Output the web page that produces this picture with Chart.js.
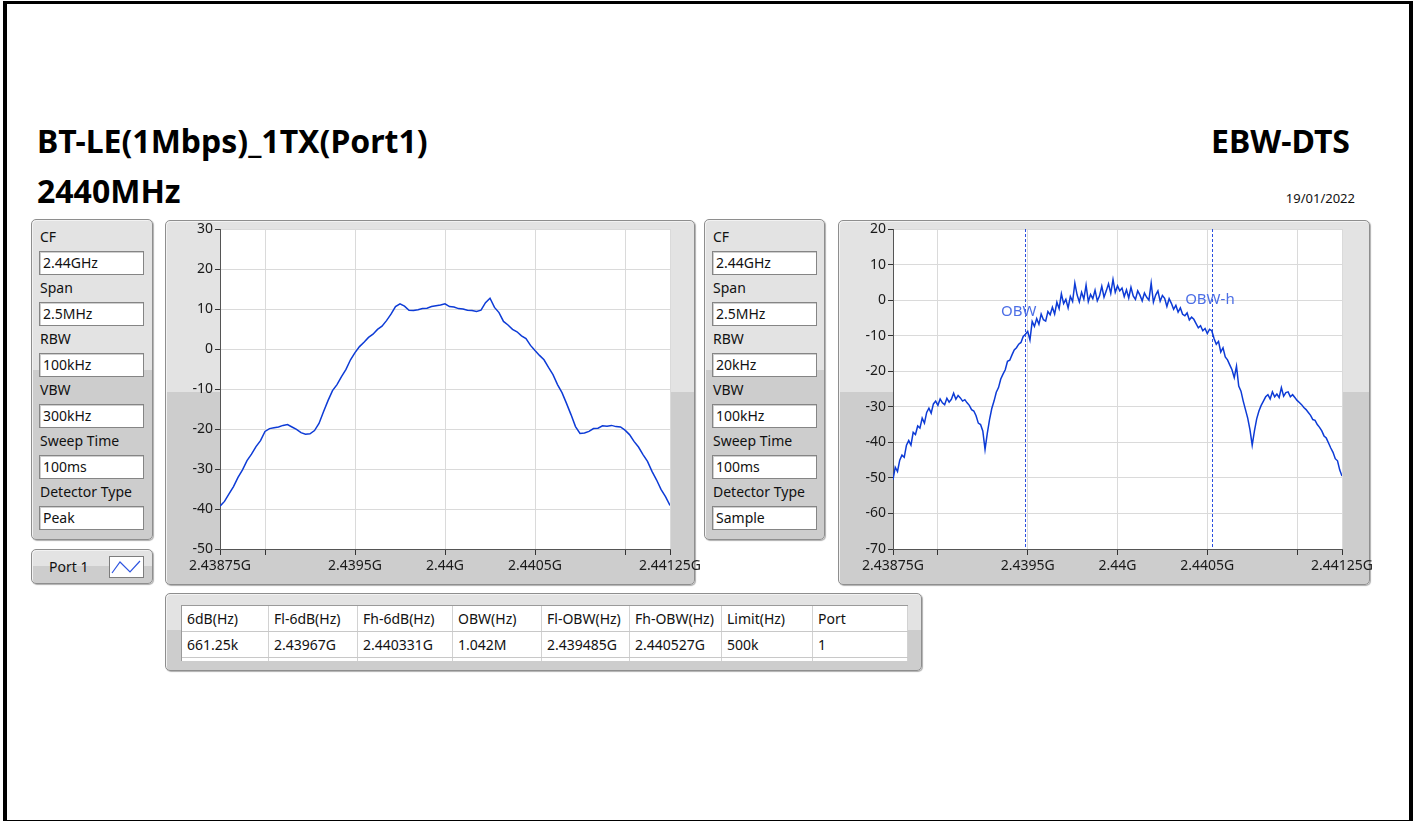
<!DOCTYPE html>
<html>
<head>
<meta charset="utf-8">
<title>EBW-DTS</title>
<script src="https://cdn.jsdelivr.net/npm/chart.js@4.4.1/dist/chart.umd.min.js"></script>
<style>
  html, body { margin: 0; padding: 0; background: #fff; }
  body { width: 1415px; height: 822px; position: relative; overflow: hidden; font-family: "Noto Sans", sans-serif; color: #111; }
  .frame { position: absolute; left: 3px; top: 1px; width: 1402px; height: 816px; border-style: solid; border-color: #000; border-width: 3px 4px 1px 4px; }
  .heading { position: absolute; font-weight: bold; font-size: 32px; line-height: 32px; white-space: nowrap; color: #000; }
  .date { position: absolute; right: 60px; top: 191px; font-size: 13px; line-height: 15px; }
  .panel { position: absolute; box-sizing: border-box; border: 1px solid #8e8e8e; border-radius: 5px;
           background: linear-gradient(to bottom, #e3e3e3 0%, #e3e3e3 47%, #cdcdcd 47%, #cdcdcd 100%);
           box-shadow: 1px 1px 1px #b0b0b0, inset 1px 1px 0 #f2f2f2; }
  .setting-label { position: absolute; left: 8px; height: 22px; line-height: 22px; font-size: 14px; white-space: nowrap; }
  .setting-box { position: absolute; left: 7px; width: 105px; height: 24px; box-sizing: border-box; background: #fff;
                 border: 1px solid #858585; box-shadow: inset 1px 1px 0 #cfcfcf; padding-left: 3px; line-height: 22px; font-size: 14px; }
  .port-text { position: absolute; left: 17px; top: 0; line-height: 33px; font-size: 14px; }
  .port-icon { position: absolute; left: 77px; top: 6px; }
  canvas { position: absolute; }
  .table-wrap { position: absolute; left: 15px; top: 11px; width: 727px; height: 56px; overflow: hidden; background: #fff;
                border-top: 1px solid #9a9a9a; border-left: 1px solid #9a9a9a; box-sizing: border-box; }
  table { border-collapse: collapse; font-size: 14px; table-layout: fixed; }
  td { height: 25px; padding: 0 0 0 5px; border-right: 1px solid #d2d2d2; border-bottom: 1px solid #c8c8c8; white-space: nowrap; color: #111; }
</style>
</head>
<body>
<div class="frame"></div>
<div class="heading" style="left:37px; top:125px;">BT-LE(1Mbps)_1TX(Port1)</div>
<div class="heading" style="left:37px; top:175px;">2440MHz</div>
<div class="heading" style="right:65px; top:125px;">EBW-DTS</div>
<div class="date">19/01/2022</div>

<div class="panel" id="settingsA" style="left:31px; top:219px; width:122px; height:321px;"></div>
<div class="panel" id="settingsB" style="left:704px; top:219px; width:121px; height:321px;"></div>

<div class="panel" style="left:31px; top:549px; width:122px; height:35px;">
  <div class="port-text">Port 1</div>
  <svg class="port-icon" width="35" height="22">
    <rect x="0.5" y="0.5" width="34" height="21" fill="#fff" stroke="#7d7d7d"/>
    <polyline points="3,17 11,6 21,16 31,5" fill="none" stroke="#2f55e0" stroke-width="1.2"/>
  </svg>
</div>

<div class="panel" style="left:165px; top:220px; width:530px; height:365px;"></div>
<div class="panel" style="left:838px; top:220px; width:532px; height:365px;"></div>
<canvas id="peakChart" width="540" height="365" style="left:165px; top:220px;"></canvas>
<canvas id="sampleChart" width="542" height="365" style="left:838px; top:220px;"></canvas>

<div class="panel" style="left:165px; top:593px; width:757px; height:78px;">
  <div class="table-wrap"><table id="resultTable"></table></div>
</div>

<script>
// sweep settings shown beside each trace
const settingNames = ['CF', 'Span', 'RBW', 'VBW', 'Sweep Time', 'Detector Type'];
const peakSettings = ['2.44GHz', '2.5MHz', '100kHz', '300kHz', '100ms', 'Peak'];
const sampleSettings = ['2.44GHz', '2.5MHz', '20kHz', '100kHz', '100ms', 'Sample'];

// result table
const resultHeaders = ['6dB(Hz)', 'Fl-6dB(Hz)', 'Fh-6dB(Hz)', 'OBW(Hz)', 'Fl-OBW(Hz)', 'Fh-OBW(Hz)', 'Limit(Hz)', 'Port'];
const resultValues = ['661.25k', '2.43967G', '2.440331G', '1.042M', '2.439485G', '2.440527G', '500k', '1'];
const resultColWidths = [87, 89, 95, 89, 88, 92, 91, 95];

// frequency axis (MHz)
const freqStart = 2438.75;
const freqStop = 2441.25;
const freqTicks = [2438.75, 2439, 2439.5, 2440, 2440.5, 2441, 2441.25];
const freqLabelled = [2438.75, 2439.5, 2440, 2440.5, 2441.25];

// OBW cursors (MHz)
const obwLow = 2439.485;
const obwHigh = 2440.527;

// peak detector trace, RBW 100kHz, 25 kHz per point (dBm)
const peakStep = 0.025;
const peakLevels = [
  -39.3, -38.1, -36.2, -34.4, -32.1, -30.2, -27.9, -26.3, -24.4, -22.9,
  -20.6, -19.9, -19.7, -19.5, -19.1, -18.9, -19.5, -20.1, -20.9, -21.3,
  -21.2, -20.4, -18.6, -15.7, -12.9, -10.4, -8.9, -6.9, -5.1, -2.7,
  -0.9, 0.6, 1.7, 2.9, 3.7, 4.9, 5.7, 7.1, 8.7, 10.6,
  11.3, 10.7, 9.7, 9.6, 9.8, 10.1, 10.2, 10.6, 10.8, 11.0,
  11.3, 10.6, 10.5, 10.1, 10.0, 9.7, 9.6, 9.4, 9.7, 11.6,
  12.7, 10.4, 9.1, 6.9, 6.0, 4.9, 4.3, 3.3, 2.6, 0.9,
  -0.4, -1.6, -2.7, -4.6, -6.4, -8.9, -10.9, -13.6, -16.4, -19.4,
  -21.1, -21.0, -20.6, -19.9, -19.8, -19.2, -19.3, -19.1, -19.4, -19.5,
  -20.3, -21.4, -23.1, -24.5, -26.4, -28.1, -30.6, -32.7, -35.1, -36.9,
  -39.1
];

// sample detector trace, RBW 20kHz, 12.5 kHz per point (dBm)
const sampleStep = 0.0125;
const sampleLevels = [
  -50.5, -47.0, -48.2, -45.0, -43.6, -44.2, -40.8, -39.5, -40.8, -37.2,
  -37.8, -35.4, -36.0, -33.2, -34.6, -31.6, -30.4, -31.8, -29.2, -28.4,
  -29.6, -27.8, -28.9, -29.4, -27.6, -28.7, -27.9, -26.2, -27.9, -26.8,
  -27.5, -28.4, -28.0, -28.9, -29.6, -30.8, -31.2, -32.5, -34.6, -35.0,
  -36.8, -42.0, -37.5, -33.6, -30.5, -28.4, -25.9, -24.6, -22.2, -20.8,
  -19.6, -17.2, -16.9, -15.4, -14.0, -13.4, -12.4, -11.9, -10.2, -9.6,
  -8.8, -11.2, -6.0, -7.4, -5.2, -6.8, -3.9, -5.5, -5.9, -3.2,
  -4.1, -2.0, -3.9, -0.6, -2.4, 1.8, -1.0, 0.2, -2.2, 1.0,
  -0.4, 4.8, 1.5, -0.5, 2.2, 0.3, 4.2, -0.4, 1.6, 0.4,
  2.8, -0.2, 1.2, 3.9, 0.8, 2.6, 4.6, 1.9, 5.8, 2.2,
  4.0, 2.6, 3.4, 1.0, 2.9, 0.6, 3.6, 1.2, 0.2, 2.6,
  1.4, -0.2, 2.0, 0.8, 0.0, 4.8, -0.6, 1.4, 2.6, -0.3,
  1.3, 0.5, -1.8, 0.4, -0.9, -2.6, -1.5, -3.4, -2.2, -4.0,
  -4.4, -3.6, -5.6, -4.8, -5.4, -6.6, -7.8, -7.2, -8.6, -8.0,
  -9.4, -8.2, -8.6, -10.8, -12.4, -11.6, -14.6, -13.4, -16.0, -16.8,
  -18.2, -19.6, -21.8, -18.6, -24.2, -25.6, -28.4, -30.8, -33.2, -36.4,
  -40.8, -36.8, -33.4, -31.2, -29.6, -28.4, -27.2, -26.6, -27.8, -25.8,
  -27.2, -26.4, -27.4, -24.6, -27.0, -26.0, -25.8, -27.2, -26.6, -27.4,
  -28.2, -28.8, -29.4, -30.2, -30.8, -31.6, -32.4, -33.6, -33.8, -35.0,
  -35.8, -36.8, -38.2, -38.8, -40.2, -41.6, -42.8, -44.6, -45.2, -47.8,
  -49.5
];

function fillSettings(id, values) {
  const panel = document.getElementById(id);
  settingNames.forEach((name, i) => {
    const label = document.createElement('div');
    label.className = 'setting-label';
    label.style.top = (6 + 51 * i) + 'px';
    label.textContent = name;
    const box = document.createElement('div');
    box.className = 'setting-box';
    box.style.top = (31 + 51 * i) + 'px';
    box.textContent = values[i];
    panel.appendChild(label);
    panel.appendChild(box);
  });
}

function fillTable() {
  const table = document.getElementById('resultTable');
  [resultHeaders, resultValues, resultHeaders.map(() => '')].forEach(row => {
    const tr = document.createElement('tr');
    row.forEach((text, i) => {
      const td = document.createElement('td');
      td.style.width = (resultColWidths[i] - 6) + 'px';
      td.textContent = text;
      tr.appendChild(td);
    });
    table.appendChild(tr);
  });
}

function toPoints(step, levels) {
  return levels.map((v, i) => ({ x: freqStart + i * step, y: v }));
}

function freqLabel(v) {
  return parseFloat((v / 1000).toFixed(6)) + 'G';
}

const plotBackground = {
  id: 'plotBackground',
  beforeDraw(chart) {
    const { ctx, chartArea: a } = chart;
    ctx.save();
    ctx.fillStyle = '#fff';
    ctx.fillRect(a.left, a.top, a.right - a.left, a.bottom - a.top);
    ctx.restore();
  }
};

const obwCursors = {
  id: 'obwCursors',
  beforeDatasetsDraw(chart) {
    const { ctx, chartArea: a, scales } = chart;
    ctx.save();
    ctx.strokeStyle = '#2b4fe0';
    ctx.lineWidth = 1;
    ctx.setLineDash([3, 2]);
    [obwLow, obwHigh].forEach(f => {
      const x = Math.round(scales.x.getPixelForValue(f)) + 0.5;
      ctx.beginPath();
      ctx.moveTo(x, a.top);
      ctx.lineTo(x, a.bottom);
      ctx.stroke();
    });
    ctx.setLineDash([]);
    ctx.fillStyle = '#4d6fe6';
    ctx.font = '15px "Noto Sans", sans-serif';
    ctx.textBaseline = 'middle';
    ctx.fillText('OBW', scales.x.getPixelForValue(obwLow) - 24, scales.y.getPixelForValue(-3.3));
    ctx.fillText('OBW-h', scales.x.getPixelForValue(obwHigh) - 27, scales.y.getPixelForValue(0));
    ctx.restore();
  }
};

function spectrumChart(canvasId, points, yMin, yMax, padRight, extraPlugins) {
  const ctx = document.getElementById(canvasId).getContext('2d');
  return new Chart(ctx, {
    type: 'line',
    data: {
      datasets: [{
        data: points,
        borderColor: '#0d3bd6',
        borderWidth: 1.5,
        pointRadius: 0,
        tension: 0
      }]
    },
    options: {
      responsive: false,
      animation: false,
      events: [],
      layout: { padding: { top: 9, right: padRight, left: 0, bottom: 0 } },
      plugins: { legend: { display: false }, tooltip: { enabled: false } },
      scales: {
        x: {
          type: 'linear',
          min: freqStart,
          max: freqStop,
          afterBuildTicks: s => { s.ticks = freqTicks.map(v => ({ value: v })); },
          afterFit: s => { s.height = 36; s.paddingLeft = 0; s.paddingRight = 0; },
          grid: { color: '#dadada', tickColor: '#333', tickLength: 6 },
          border: { color: '#555' },
          ticks: {
            autoSkip: false, maxRotation: 0, padding: 3,
            color: '#1a1a1a', font: { size: 14 },
            callback: v => freqLabelled.includes(v) ? freqLabel(v) : ''
          }
        },
        y: {
          min: yMin,
          max: yMax,
          afterFit: s => { s.width = 55; s.paddingTop = 0; s.paddingBottom = 0; },
          grid: { color: '#dadada', tickColor: '#333', tickLength: 5 },
          border: { color: '#555' },
          ticks: { stepSize: 10, padding: 2, color: '#1a1a1a', font: { size: 14 } }
        }
      }
    },
    plugins: [plotBackground].concat(extraPlugins)
  });
}

Chart.defaults.font.family = '"Noto Sans", sans-serif';

fillSettings('settingsA', peakSettings);
fillSettings('settingsB', sampleSettings);
fillTable();
spectrumChart('peakChart', toPoints(peakStep, peakLevels), -50, 30, 35, []);
spectrumChart('sampleChart', toPoints(sampleStep, sampleLevels), -70, 20, 38, [obwCursors]);
</script>
</body>
</html>
